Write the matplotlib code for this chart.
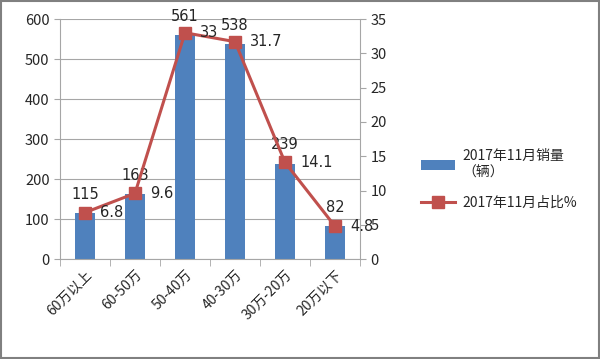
import matplotlib.pyplot as plt
import numpy as np
from matplotlib.patches import Rectangle

plt.rcParams['font.family'] = ['Noto Sans CJK SC', 'DejaVu Sans']

categories = ['60万以上', '60-50万', '50-40万', '40-30万', '30万-20万', '20万以下']
sales = [115, 163, 561, 538, 239, 82]
share = [6.8, 9.6, 33, 31.7, 14.1, 4.8]

bar_color = '#4F81BD'
line_color = '#C0504D'
grid_color = '#A6A6A6'
text_color = '#262626'

fig = plt.figure(figsize=(6, 3.59), dpi=100)
ax = fig.add_axes([0.1, 0.278, 0.5, 0.669])
ax2 = ax.twinx()

x = np.arange(len(categories))
ax.bar(x, sales, width=0.4, color=bar_color, zorder=2, label='2017年11月销量\n（辆）')
ax.set_xlim(-0.5, len(categories) - 0.5)
ax.set_ylim(0, 600)
ax.set_yticks(range(0, 601, 100))
ax.yaxis.grid(True, color=grid_color, linewidth=0.8, zorder=0)
ax.set_axisbelow(True)

ax2.plot(x, share, '-s', color=line_color, linewidth=2.2, markersize=9, zorder=3,
         label='2017年11月占比%')
ax2.set_ylim(0, 35)
ax2.set_yticks(range(0, 36, 5))

# data labels
for xi, v in zip(x, sales):
    ax.annotate(str(v), (xi, v), xytext=(0, 8), textcoords='offset points',
                ha='center', va='bottom', fontsize=10.5, color=text_color,
                family='DejaVu Sans', zorder=5)
for xi, v in zip(x, share):
    ax2.annotate(f'{v:g}', (xi, v), xytext=(11, 0), textcoords='offset points',
                 ha='left', va='center', fontsize=10.5, color=text_color,
                 family='DejaVu Sans', zorder=5)

ax.set_xticks(x)
ax.set_xticklabels(categories, rotation=45, ha='right', rotation_mode='anchor',
                   fontsize=10, color=text_color)
ax.tick_params(axis='x', length=0, pad=6)
ax.set_xticks(np.arange(-0.5, len(categories)), minor=True)
ax.tick_params(axis='x', which='minor', length=5, color=grid_color)

for a in (ax, ax2):
    for s in a.spines.values():
        s.set_visible(False)
    a.tick_params(axis='y', length=4, color=grid_color, labelsize=10.5,
                  labelcolor=text_color)
ax.spines['left'].set_visible(True)
ax.spines['left'].set_color(grid_color)
ax.spines['bottom'].set_visible(True)
ax.spines['bottom'].set_color(grid_color)
ax2.spines['right'].set_visible(True)
ax2.spines['right'].set_color(grid_color)

h1, l1 = ax.get_legend_handles_labels()
h2, l2 = ax2.get_legend_handles_labels()
fig.legend(h1 + h2, l1 + l2, loc='center left', bbox_to_anchor=(0.68, 0.5),
           frameon=False, fontsize=10, handlelength=2.5, handletextpad=0.5,
           labelspacing=1.2, labelcolor=text_color)

fig.patches.append(Rectangle((0.002, 0.003), 0.996, 0.994, transform=fig.transFigure,
                             fill=False, edgecolor='#808080', linewidth=1.5))

fig.savefig('out.png', dpi=100)
